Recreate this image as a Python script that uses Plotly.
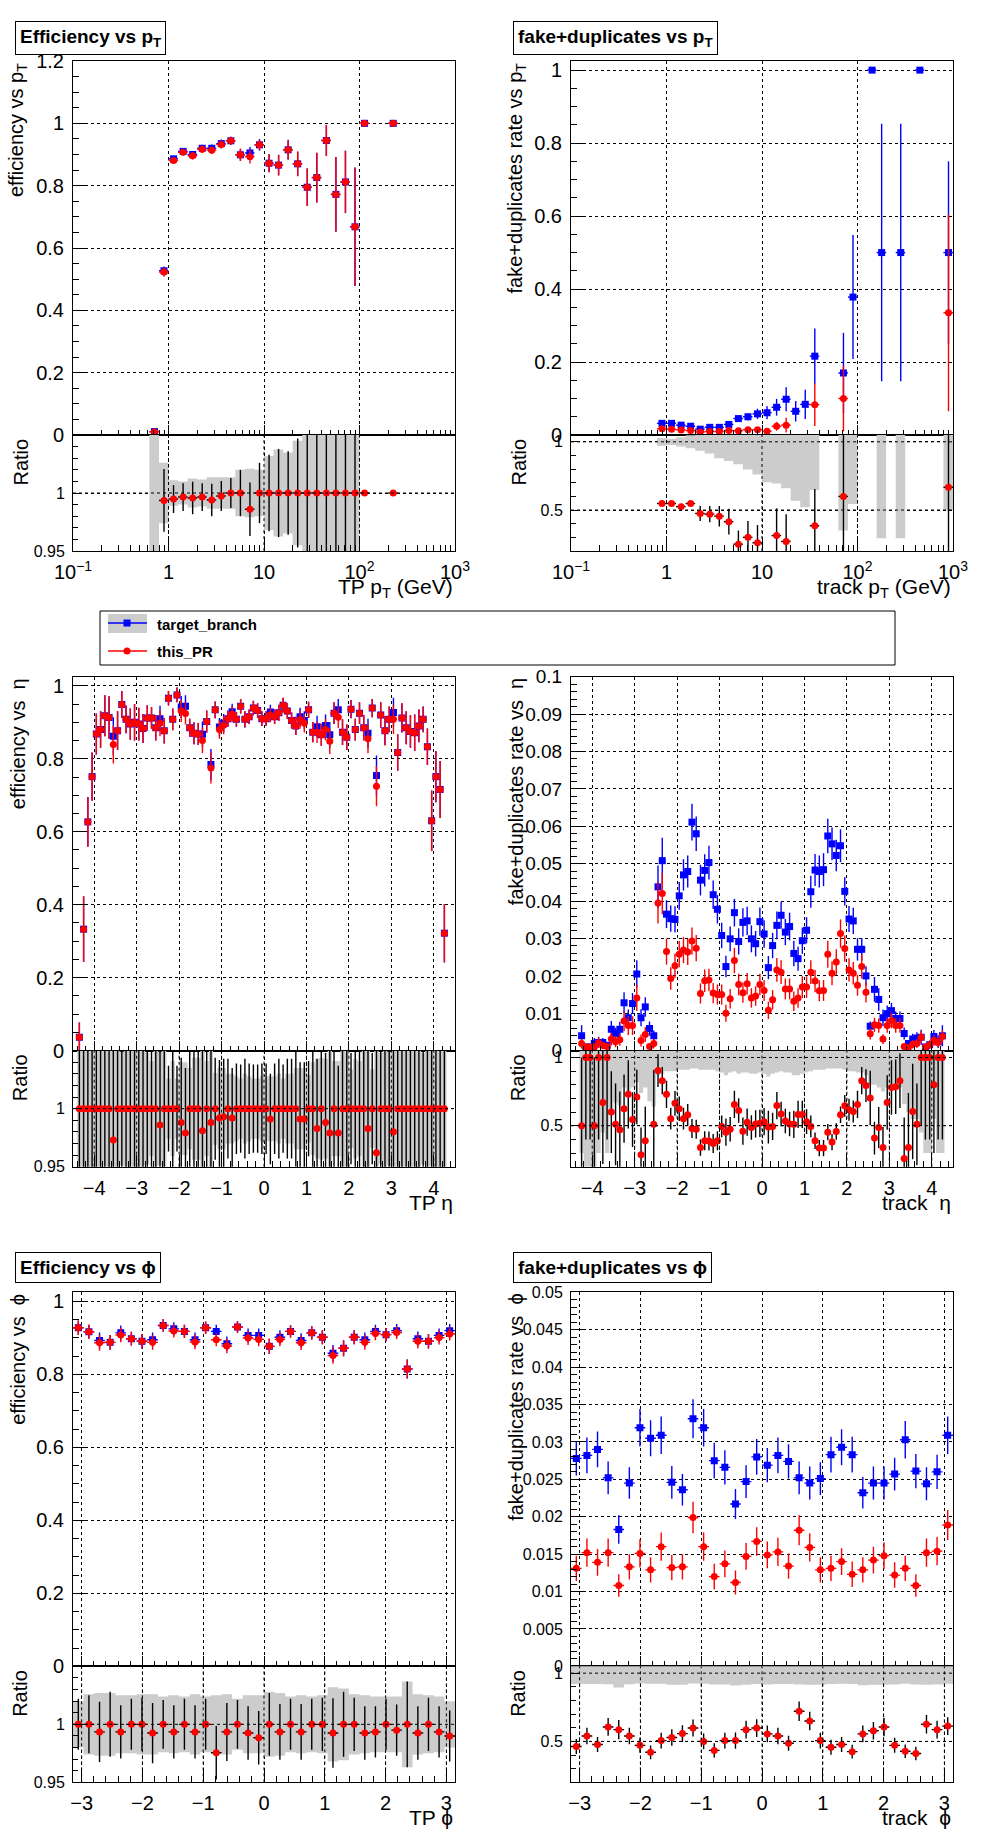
import math
import plotly.graph_objects as go

# ======================= DATA =======================
# ---- pT binning (40 log bins, 0.1 decade each, 0.1 .. 1000 GeV)
pt_edges = [10 ** (-1 + 0.1 * i) for i in range(41)]

eff_pt_target = [None] * 8 + [0.011, 0.527, 0.886, 0.910, 0.900, 0.920, 0.920, 0.935, 0.944, 0.899,
                              0.905, 0.931, 0.872, 0.866, 0.915, 0.870, 0.795, 0.826, 0.945, 0.772,
                              0.812, 0.668, 1.0, None, None, 1.0] + [None] * 6
eff_pt_pr = [None] * 8 + [0.010, 0.523, 0.881, 0.907, 0.896, 0.917, 0.914, 0.932, 0.944, 0.899,
                          0.893, 0.931, 0.872, 0.866, 0.915, 0.870, 0.795, 0.826, 0.945, 0.772,
                          0.812, 0.668, 1.0, None, None, 1.0] + [None] * 6
eff_pt_err_target = [None] * 8 + [0.004, 0.014, 0.010, 0.009, 0.011, 0.011, 0.012, 0.013, 0.013, 0.018,
                                  0.019, 0.019, 0.028, 0.033, 0.032, 0.039, 0.060, 0.080, 0.050, 0.120,
                                  0.100, 0.190, 0.0, None, None, 0.0] + [None] * 6
eff_pt_err_pr = [None] * 8 + [0.004, 0.015, 0.010, 0.010, 0.012, 0.012, 0.012, 0.013, 0.013, 0.020,
                              0.022, 0.016, 0.030, 0.033, 0.030, 0.040, 0.060, 0.080, 0.050, 0.120,
                              0.100, 0.190, 0.0, None, None, 0.0] + [None] * 6
eff_pt_ratio = [None] * 9 + [0.9936, 0.9948, 0.9965, 0.9957, 0.9965, 0.994, 0.9974, 1.0, 1.0, 0.986,
                             1.0, 1.0, 1.0, 1.0, 1.0, 1.0, 1.0, 1.0, 1.0, 1.0,
                             1.0, 1.0, None, None, 1.0] + [None] * 6
eff_pt_ratio_err = [None] * 9 + [0.027, 0.012, 0.012, 0.014, 0.012, 0.014, 0.013, 0.013, 0.020, 0.023,
                                 0.026, 0.033, 0.038, 0.036, 0.047, 0.080, 0.100, 0.060, 0.150, 0.120,
                                 0.280, 0.0, None, None, 0.0] + [None] * 6
eff_pt_band = [None] * 8 + [0.10, 0.026, 0.011, 0.010, 0.0124, 0.0116, 0.0136, 0.0136, 0.0136, 0.020,
                            0.021, 0.020, 0.032, 0.0376, 0.035, 0.045, 0.075, 0.10, 0.055, 0.15,
                            0.12, 0.28, 0.0, None, None, 0.0] + [None] * 6

fake_pt_target = [None] * 9 + [0.032, 0.032, 0.027, 0.024, 0.016, 0.021, 0.021, 0.029, 0.045, 0.050,
                               0.058, 0.061, 0.076, 0.098, 0.065, 0.084, 0.216, None, None, 0.170,
                               0.378, None, 1.0, 0.5, None, 0.5, None, 1.0, None, None, 0.5]
fake_pt_err_target = [None] * 9 + [0.0009, 0.0008, 0.0009, 0.0012, 0.001, 0.0018, 0.0025, 0.004, 0.0074, 0.010,
                                   0.014, 0.018, 0.023, 0.033, 0.028, 0.040, 0.076, None, None, 0.11,
                                   0.17, None, 0.0, 0.353, None, 0.353, None, 0.0, None, None, 0.25]
fake_pt_pr = [None] * 9 + [0.017, 0.016, 0.014, 0.012, 0.008, 0.0095, 0.0095, 0.012, 0.0115, 0.0145,
                           0.0145, 0.0105, 0.024, 0.027, None, None, 0.083, None, None, 0.100,
                           None, None, None, None, None, None, None, None, None, None, 0.335]
fake_pt_err_pr = [None] * 9 + [0.001, 0.001, 0.001, 0.001, 0.0008, 0.001, 0.0013, 0.0017, 0.0025, 0.004,
                               0.004, 0.004, 0.012, 0.020, None, None, 0.058, None, None, 0.09,
                               None, None, None, None, None, None, None, None, None, None, 0.27]
fake_pt_ratio = [None] * 9 + [0.548, 0.548, 0.525, 0.548, 0.475, 0.47, 0.455, 0.415, 0.25, 0.30,
                              0.26, None, 0.313, 0.27, None, None, 0.385, None, None, 0.60,
                              None, None, None, None, None, None, None, None, None, None, 0.667]
fake_pt_ratio_err = [None] * 9 + [0.012, 0.012, 0.012, 0.015, 0.055, 0.06, 0.075, 0.095, 0.10, 0.12,
                                  0.13, None, 0.20, 0.20, None, None, 0.27, None, None, 0.60,
                                  None, None, None, None, None, None, None, None, None, None, 0.60]
fake_pt_band = [None] * 9 + [0.028, 0.023, 0.034, 0.048, 0.065, 0.085, 0.12, 0.14, 0.164, 0.203,
                             0.24, 0.297, 0.305, 0.34, 0.432, 0.48, 0.353, None, None, 0.65,
                             0.455, None, 0.0, 0.706, None, 0.706, None, 0.0, None, None, 0.5]

# ---- eta binning (0.1 wide bins)
eff_eta_centers = [round(-4.35 + 0.1 * i, 2) for i in range(87)]
fake_eta_centers = [round(-4.25 + 0.1 * i, 2) for i in range(86)]
eta_half_width = 0.05

eff_eta_pr = [0.037, 0.333, 0.627, 0.751, 0.868, 0.880, 0.918, 0.913, 0.839, 0.877,
              0.949, 0.908, 0.895, 0.900, 0.895, 0.883, 0.912, 0.912, 0.885, 0.897,
              0.877, 0.966, 0.908, 0.975, 0.931, 0.924, 0.885, 0.870, 0.868, 0.850,
              0.902, 0.775, 0.934, 0.880, 0.892, 0.910, 0.922, 0.908, 0.944, 0.908,
              0.915, 0.939, 0.932, 0.910, 0.910, 0.920, 0.915, 0.926, 0.947, 0.931,
              0.905, 0.890, 0.907, 0.897, 0.934, 0.873, 0.873, 0.866, 0.880, 0.848,
              0.925, 0.914, 0.873, 0.859, 0.936, 0.880, 0.925, 0.885, 0.855, 0.939,
              0.725, 0.920, 0.877, 0.908, 0.908, 0.817, 0.912, 0.885, 0.875, 0.871,
              0.890, 0.908, 0.833, 0.630, 0.751, 0.716, 0.322]
eff_eta_target = [0.037, 0.333, 0.627, 0.751, 0.868, 0.880, 0.918, 0.913, 0.862, 0.877,
                  0.949, 0.908, 0.895, 0.900, 0.895, 0.883, 0.912, 0.912, 0.885, 0.910,
                  0.877, 0.966, 0.908, 0.975, 0.942, 0.944, 0.885, 0.870, 0.868, 0.867,
                  0.902, 0.784, 0.934, 0.887, 0.898, 0.910, 0.929, 0.908, 0.944, 0.908,
                  0.915, 0.939, 0.932, 0.910, 0.910, 0.928, 0.915, 0.926, 0.947, 0.931,
                  0.905, 0.890, 0.915, 0.905, 0.934, 0.873, 0.888, 0.866, 0.891, 0.866,
                  0.925, 0.934, 0.873, 0.859, 0.936, 0.880, 0.925, 0.885, 0.870, 0.939,
                  0.754, 0.920, 0.877, 0.908, 0.927, 0.817, 0.912, 0.885, 0.875, 0.871,
                  0.890, 0.908, 0.833, 0.630, 0.751, 0.716, 0.322]
eff_eta_err = [0.040, 0.090, 0.068, 0.066, 0.056, 0.050, 0.056, 0.058, 0.052, 0.053,
               0.037, 0.038, 0.043, 0.050, 0.045, 0.040, 0.035, 0.030, 0.035, 0.035,
               0.035, 0.020, 0.030, 0.020, 0.030, 0.030, 0.025, 0.030, 0.030, 0.035,
               0.030, 0.043, 0.023, 0.025, 0.025, 0.022, 0.022, 0.020, 0.020, 0.022,
               0.020, 0.020, 0.020, 0.020, 0.020, 0.020, 0.020, 0.022, 0.020, 0.022,
               0.022, 0.025, 0.025, 0.025, 0.022, 0.028, 0.030, 0.030, 0.030, 0.035,
               0.030, 0.030, 0.035, 0.035, 0.025, 0.030, 0.030, 0.035, 0.040, 0.025,
               0.055, 0.035, 0.040, 0.035, 0.040, 0.050, 0.040, 0.045, 0.045, 0.050,
               0.045, 0.035, 0.050, 0.083, 0.070, 0.078, 0.080]
eff_eta_ratio = [1.0, 1.0, 1.0, 1.0, 1.0, 1.0, 1.0, 1.0, 0.973, 1.0,
                 1.0, 1.0, 1.0, 1.0, 1.0, 1.0, 1.0, 1.0, 1.0, 0.986,
                 1.0, 1.0, 1.0, 1.0, 0.988, 0.979, 1.0, 1.0, 1.0, 0.981,
                 1.0, 0.988, 1.0, 0.992, 0.993, 1.0, 0.992, 1.0, 1.0, 1.0,
                 1.0, 1.0, 1.0, 1.0, 1.0, 0.991, 1.0, 1.0, 1.0, 1.0,
                 1.0, 1.0, 0.991, 0.991, 1.0, 1.0, 0.983, 1.0, 0.988, 0.979,
                 1.0, 0.979, 1.0, 1.0, 1.0, 1.0, 1.0, 1.0, 0.983, 1.0,
                 0.962, 1.0, 1.0, 1.0, 0.980, 1.0, 1.0, 1.0, 1.0, 1.0,
                 1.0, 1.0, 1.0, 1.0, 1.0, 1.0, 1.0]
eff_eta_ratio_err = [0.60, 0.45, 0.19, 0.155, 0.115, 0.10, 0.108, 0.112, 0.108, 0.106,
                     0.070, 0.074, 0.085, 0.097, 0.089, 0.080, 0.068, 0.058, 0.070, 0.069,
                     0.070, 0.037, 0.059, 0.037, 0.056, 0.056, 0.050, 0.061, 0.061, 0.072,
                     0.059, 0.097, 0.044, 0.050, 0.050, 0.043, 0.043, 0.039, 0.038, 0.043,
                     0.039, 0.038, 0.038, 0.039, 0.039, 0.039, 0.039, 0.043, 0.038, 0.043,
                     0.043, 0.050, 0.049, 0.049, 0.041, 0.056, 0.060, 0.061, 0.060, 0.072,
                     0.058, 0.058, 0.071, 0.071, 0.048, 0.060, 0.058, 0.070, 0.082, 0.048,
                     0.130, 0.068, 0.080, 0.069, 0.078, 0.107, 0.078, 0.090, 0.091, 0.100,
                     0.089, 0.068, 0.106, 0.230, 0.165, 0.190, 0.430]
eff_eta_band = [0.60, 0.34, 0.14, 0.11, 0.081, 0.071, 0.076, 0.080, 0.078, 0.075,
                0.049, 0.053, 0.060, 0.069, 0.063, 0.056, 0.048, 0.041, 0.050, 0.049,
                0.050, 0.026, 0.041, 0.026, 0.040, 0.040, 0.035, 0.044, 0.044, 0.051,
                0.041, 0.069, 0.031, 0.035, 0.035, 0.030, 0.030, 0.028, 0.026, 0.030,
                0.028, 0.026, 0.026, 0.028, 0.028, 0.028, 0.028, 0.030, 0.026, 0.030,
                0.030, 0.035, 0.035, 0.035, 0.029, 0.040, 0.043, 0.044, 0.043, 0.051,
                0.041, 0.041, 0.050, 0.050, 0.034, 0.043, 0.041, 0.050, 0.059, 0.034,
                0.095, 0.048, 0.056, 0.049, 0.055, 0.076, 0.055, 0.064, 0.065, 0.071,
                0.063, 0.048, 0.075, 0.160, 0.116, 0.140, 0.310]

fake_eta_target = [0.0040, 0.0010, 0.0010, 0.0019, 0.0022, 0.0022, 0.0014, 0.0057, 0.0046, 0.0057,
                   0.0128, 0.0088, 0.0126, 0.0205, 0.0088, 0.0117, 0.0059, 0.0040, 0.0438, 0.0508,
                   0.0365, 0.0353, 0.0351, 0.0414, 0.0470, 0.0479, 0.0611, 0.0580, 0.0456, 0.0482,
                   0.0503, 0.0417, 0.0378, 0.0308, 0.0225, 0.0299, 0.0369, 0.0292, 0.0343, 0.0347,
                   0.0299, 0.0286, 0.0345, 0.0312, 0.0222, 0.0281, 0.0335, 0.0362, 0.0317, 0.0332,
                   0.0260, 0.0246, 0.0294, 0.0322, 0.0425, 0.0483, 0.0479, 0.0484, 0.0574, 0.0553,
                   0.0522, 0.0548, 0.0426, 0.0352, 0.0347, 0.0271, 0.0271, 0.0200, 0.0065, 0.0164,
                   0.0137, 0.0088, 0.0099, 0.0107, 0.0086, 0.0086, 0.0046, 0.0019, 0.0031, 0.0034,
                   0.0036, 0.0010, 0.0016, 0.0038, 0.0024, 0.0040]
fake_eta_err_target = [0.0028, 0.0008, 0.0008, 0.0015, 0.0015, 0.0012, 0.0010, 0.0022, 0.0015, 0.0020,
                       0.0028, 0.0022, 0.0028, 0.0037, 0.0023, 0.0026, 0.0019, 0.0014, 0.0057, 0.0061,
                       0.0037, 0.0035, 0.0035, 0.0037, 0.0042, 0.0043, 0.0049, 0.0046, 0.0041, 0.0043,
                       0.0045, 0.0038, 0.0038, 0.0034, 0.0029, 0.0033, 0.0037, 0.0035, 0.0038, 0.0038,
                       0.0036, 0.0034, 0.0038, 0.0037, 0.0031, 0.0034, 0.0037, 0.0036, 0.0035, 0.0037,
                       0.0034, 0.0032, 0.0035, 0.0035, 0.0043, 0.0043, 0.0043, 0.0044, 0.0046, 0.0044,
                       0.0042, 0.0044, 0.0038, 0.0035, 0.0035, 0.0030, 0.0030, 0.0026, 0.0013, 0.0033,
                       0.0030, 0.0022, 0.0022, 0.0021, 0.0019, 0.0019, 0.0016, 0.0008, 0.0014, 0.0015,
                       0.0020, 0.0007, 0.0011, 0.0017, 0.0017, 0.0028]
fake_eta_pr = [0.0019, 0.0010, 0.0010, 0.0010, 0.0021, 0.0014, 0.0011, 0.0031, 0.0024, 0.0029,
               0.0079, 0.0067, 0.0067, 0.0141, 0.0027, 0.0043, 0.0011, 0.0019, 0.0395, 0.0420,
               0.0265, 0.0193, 0.0227, 0.0258, 0.0269, 0.0264, 0.0293, 0.0274, 0.0153, 0.0187,
               0.0189, 0.0154, 0.0150, 0.0150, 0.0100, 0.0139, 0.0241, 0.0177, 0.0155, 0.0179,
               0.0141, 0.0146, 0.0177, 0.0161, 0.0108, 0.0136, 0.0216, 0.0210, 0.0165, 0.0165,
               0.0132, 0.0141, 0.0170, 0.0170, 0.0210, 0.0186, 0.0160, 0.0161, 0.0258, 0.0207,
               0.0237, 0.0313, 0.0273, 0.0216, 0.0207, 0.0175, 0.0225, 0.0156, 0.0045, 0.0069,
               0.0067, 0.0031, 0.0067, 0.0081, 0.0067, 0.0067, 0.0011, 0.0008, 0.0017, 0.0019,
               0.0036, 0.0010, 0.0016, 0.0027, 0.0022, 0.0038]
fake_eta_err_pr = [0.0013, 0.0008, 0.0008, 0.0008, 0.0014, 0.0010, 0.0008, 0.0017, 0.0015, 0.0016,
                   0.0027, 0.0025, 0.0025, 0.0035, 0.0016, 0.0020, 0.0008, 0.0013, 0.0055, 0.0055,
                   0.0035, 0.0030, 0.0033, 0.0035, 0.0035, 0.0035, 0.0036, 0.0035, 0.0027, 0.0030,
                   0.0030, 0.0027, 0.0027, 0.0027, 0.0023, 0.0026, 0.0034, 0.0029, 0.0027, 0.0029,
                   0.0026, 0.0026, 0.0029, 0.0028, 0.0023, 0.0026, 0.0032, 0.0032, 0.0028, 0.0028,
                   0.0026, 0.0026, 0.0029, 0.0029, 0.0032, 0.0030, 0.0028, 0.0028, 0.0036, 0.0032,
                   0.0034, 0.0038, 0.0035, 0.0031, 0.0030, 0.0028, 0.0032, 0.0027, 0.0015, 0.0019,
                   0.0019, 0.0013, 0.0019, 0.0021, 0.0019, 0.0019, 0.0008, 0.0007, 0.0011, 0.0012,
                   0.0017, 0.0008, 0.0011, 0.0014, 0.0013, 0.0017]
fake_eta_ratio = [0.50, 1.00, 1.00, 0.50, 1.00, 0.67, 1.00, 0.60, 0.51, 0.47,
                  0.625, 0.73, 0.545, 0.71, 0.287, 0.39, None, 0.51, 0.904, 0.83,
                  0.73, 0.552, 0.664, 0.625, 0.552, 0.58, 0.48, 0.474, 0.34, 0.39,
                  0.388, 0.37, 0.39, 0.495, 0.453, 0.474, 0.656, 0.612, 0.46, 0.526,
                  0.487, 0.513, 0.518, 0.53, 0.49, 0.495, 0.648, 0.586, 0.534, 0.513,
                  0.51, 0.583, 0.583, 0.53, 0.495, 0.39, 0.336, 0.336, 0.453, 0.38,
                  0.458, 0.58, 0.646, 0.617, 0.604, 0.656, 0.83, 0.794, 0.703, 0.41,
                  0.487, 0.34, 0.67, 0.78, 0.786, 0.83, 0.26, 0.34, 0.604, 0.51,
                  1.00, 1.00, 1.00, 0.80, 1.00, 1.00]
fake_eta_ratio_err = [0.50, 0.60, 0.60, 0.50, 0.60, 0.45, 0.60, 0.30, 0.30, 0.28,
                      0.25, 0.25, 0.20, 0.20, 0.20, 0.25, None, 0.40, 0.12, 0.10,
                      0.10, 0.08, 0.09, 0.09, 0.08, 0.08, 0.07, 0.07, 0.06, 0.07,
                      0.07, 0.07, 0.07, 0.08, 0.10, 0.09, 0.10, 0.09, 0.10, 0.10,
                      0.09, 0.10, 0.10, 0.10, 0.12, 0.10, 0.10, 0.09, 0.09, 0.09,
                      0.10, 0.10, 0.10, 0.09, 0.08, 0.06, 0.06, 0.06, 0.06, 0.06,
                      0.06, 0.06, 0.08, 0.08, 0.08, 0.10, 0.10, 0.12, 0.20, 0.12,
                      0.15, 0.15, 0.20, 0.20, 0.20, 0.20, 0.30, 0.40, 0.35, 0.30,
                      0.50, 0.60, 0.60, 0.50, 0.60, 0.60]
fake_eta_band = [0.70, 0.80, 0.80, 0.80, 0.70, 0.55, 0.70, 0.38, 0.33, 0.35,
                 0.22, 0.25, 0.22, 0.18, 0.26, 0.22, 0.32, 0.36, 0.13, 0.12,
                 0.10, 0.10, 0.10, 0.09, 0.09, 0.09, 0.08, 0.08, 0.09, 0.09,
                 0.09, 0.09, 0.10, 0.11, 0.13, 0.11, 0.10, 0.12, 0.11, 0.11,
                 0.12, 0.12, 0.11, 0.12, 0.14, 0.12, 0.11, 0.10, 0.11, 0.11,
                 0.13, 0.13, 0.12, 0.11, 0.10, 0.09, 0.09, 0.09, 0.08, 0.08,
                 0.08, 0.08, 0.09, 0.10, 0.10, 0.11, 0.11, 0.13, 0.20, 0.20,
                 0.22, 0.25, 0.22, 0.20, 0.22, 0.22, 0.34, 0.40, 0.45, 0.45,
                 0.55, 0.70, 0.70, 0.45, 0.70, 0.70]

# ---- phi binning (36 bins over [-pi, pi])
phi_edges = [-math.pi + i * 2 * math.pi / 36 for i in range(37)]

eff_phi_target = [0.928, 0.917, 0.893, 0.888, 0.914, 0.898, 0.891, 0.895, 0.934, 0.925,
                  0.918, 0.895, 0.928, 0.918, 0.884, 0.930, 0.907, 0.907, 0.877, 0.902,
                  0.918, 0.893, 0.914, 0.902, 0.858, 0.872, 0.902, 0.895, 0.918, 0.909,
                  0.920, 0.815, 0.898, 0.891, 0.907, 0.920]
eff_phi_pr = [0.928, 0.917, 0.887, 0.888, 0.908, 0.898, 0.891, 0.888, 0.934, 0.919,
              0.918, 0.889, 0.928, 0.895, 0.878, 0.930, 0.900, 0.896, 0.877, 0.896,
              0.918, 0.887, 0.914, 0.902, 0.852, 0.872, 0.902, 0.888, 0.912, 0.909,
              0.915, 0.815, 0.891, 0.891, 0.901, 0.911]
eff_phi_err = [0.020, 0.019, 0.022, 0.020, 0.020, 0.019, 0.020, 0.020, 0.017, 0.018,
               0.018, 0.020, 0.017, 0.018, 0.020, 0.016, 0.019, 0.019, 0.021, 0.019,
               0.017, 0.020, 0.018, 0.019, 0.023, 0.022, 0.019, 0.020, 0.018, 0.018,
               0.018, 0.026, 0.020, 0.020, 0.019, 0.018]
eff_phi_ratio = [1.0, 1.0, 0.9935, 1.0, 0.9935, 1.0, 1.0, 0.9925, 1.0, 0.9935,
                 1.0, 0.9935, 1.0, 0.9755, 0.9935, 1.0, 0.9925, 0.9884, 1.0, 0.9935,
                 1.0, 0.9935, 1.0, 1.0, 0.9925, 1.0, 1.0, 0.9925, 0.9935, 1.0,
                 0.995, 1.0, 0.9925, 1.0, 0.9935, 0.990]
eff_phi_ratio_err = [0.022, 0.025, 0.026, 0.028, 0.023, 0.022, 0.023, 0.026, 0.021, 0.023,
                     0.022, 0.023, 0.022, 0.023, 0.025, 0.021, 0.023, 0.023, 0.027, 0.024,
                     0.022, 0.024, 0.022, 0.023, 0.030, 0.028, 0.023, 0.023, 0.022, 0.022,
                     0.022, 0.037, 0.023, 0.023, 0.022, 0.022]
eff_phi_band = [0.020, 0.026, 0.027, 0.027, 0.025, 0.025, 0.026, 0.026, 0.024, 0.025,
                0.024, 0.026, 0.024, 0.025, 0.026, 0.022, 0.025, 0.025, 0.028, 0.027,
                0.024, 0.025, 0.024, 0.025, 0.032, 0.031, 0.026, 0.025, 0.024, 0.024,
                0.024, 0.037, 0.026, 0.025, 0.024, 0.020]

fake_phi_target = [0.0278, 0.0282, 0.0290, 0.0252, 0.0183, 0.0245, 0.0319, 0.0305, 0.0309, 0.0246,
                   0.0236, 0.0331, 0.0319, 0.0275, 0.0266, 0.0217, 0.0247, 0.0280, 0.0269, 0.0282,
                   0.0274, 0.0252, 0.0245, 0.0251, 0.0283, 0.0293, 0.0283, 0.0232, 0.0245, 0.0245,
                   0.0257, 0.0303, 0.0261, 0.0244, 0.0260, 0.0309]
fake_phi_err_target = [0.0023, 0.0024, 0.0024, 0.0022, 0.0019, 0.0021, 0.0025, 0.0024, 0.0025, 0.0022,
                       0.0021, 0.0026, 0.0025, 0.0024, 0.0023, 0.0020, 0.0022, 0.0024, 0.0023, 0.0024,
                       0.0023, 0.0022, 0.0022, 0.0022, 0.0024, 0.0024, 0.0024, 0.0021, 0.0022, 0.0022,
                       0.0022, 0.0025, 0.0023, 0.0022, 0.0023, 0.0025]
fake_phi_pr = [0.0131, 0.0152, 0.0139, 0.0152, 0.0108, 0.0133, 0.0151, 0.0129, 0.0160, 0.0132,
               0.0133, 0.0199, 0.0160, 0.0120, 0.0137, 0.0112, 0.0147, 0.0167, 0.0149, 0.0153,
               0.0134, 0.0182, 0.0159, 0.0129, 0.0131, 0.0140, 0.0123, 0.0129, 0.0142, 0.0148,
               0.0122, 0.0131, 0.0108, 0.0152, 0.0154, 0.0189]
fake_phi_err_pr = [0.0017, 0.0019, 0.0018, 0.0019, 0.0015, 0.0017, 0.0019, 0.0017, 0.0019, 0.0017,
                   0.0017, 0.0021, 0.0019, 0.0017, 0.0018, 0.0016, 0.0018, 0.0019, 0.0018, 0.0019,
                   0.0017, 0.0020, 0.0019, 0.0017, 0.0017, 0.0018, 0.0017, 0.0017, 0.0018, 0.0018,
                   0.0017, 0.0017, 0.0015, 0.0019, 0.0019, 0.0020]
fake_phi_ratio = [0.463, 0.54, 0.477, 0.606, 0.586, 0.54, 0.471, 0.42, 0.506, 0.529,
                  0.557, 0.598, 0.50, 0.434, 0.506, 0.506, 0.586, 0.598, 0.555, 0.54,
                  0.486, 0.721, 0.649, 0.506, 0.457, 0.477, 0.425, 0.555, 0.578, 0.606,
                  0.471, 0.428, 0.411, 0.626, 0.586, 0.612]
fake_phi_ratio_err = [0.055, 0.060, 0.055, 0.065, 0.070, 0.060, 0.055, 0.050, 0.058, 0.060,
                      0.062, 0.062, 0.058, 0.052, 0.058, 0.060, 0.065, 0.065, 0.062, 0.060,
                      0.055, 0.072, 0.068, 0.058, 0.055, 0.055, 0.050, 0.062, 0.065, 0.068,
                      0.055, 0.050, 0.050, 0.068, 0.065, 0.065]
fake_phi_band = [0.080, 0.080, 0.080, 0.082, 0.105, 0.082, 0.075, 0.077, 0.077, 0.085,
                 0.085, 0.075, 0.077, 0.083, 0.083, 0.090, 0.085, 0.080, 0.083, 0.080,
                 0.080, 0.083, 0.085, 0.085, 0.080, 0.078, 0.080, 0.088, 0.085, 0.085,
                 0.083, 0.078, 0.083, 0.085, 0.083, 0.078]

# ---- tick labels
pt_tickvals = [0.1, 1, 10, 100, 1000]
pt_ticktext = ["10<sup>\u22121</sup>", "1", "10", "10<sup>2</sup>", "10<sup>3</sup>"]
eta_tickvals = [-4, -3, -2, -1, 0, 1, 2, 3, 4]
phi_tickvals = [-3, -2, -1, 0, 1, 2, 3]
eff_pt_yticks = [0, 0.2, 0.4, 0.6, 0.8, 1.0, 1.2]
eff_pt_ylabels = ["0", "0.2", "0.4", "0.6", "0.8", "1", "1.2"]
unit_yticks = [0, 0.2, 0.4, 0.6, 0.8, 1.0]
unit_ylabels = ["0", "0.2", "0.4", "0.6", "0.8", "1"]
fake_eta_yticks = [0, 0.01, 0.02, 0.03, 0.04, 0.05, 0.06, 0.07, 0.08, 0.09, 0.1]
fake_eta_ylabels = ["0", "0.01", "0.02", "0.03", "0.04", "0.05", "0.06", "0.07", "0.08", "0.09", "0.1"]
fake_phi_yticks = [0, 0.005, 0.01, 0.015, 0.02, 0.025, 0.03, 0.035, 0.04, 0.045, 0.05]
fake_phi_ylabels = ["0", "0.005", "0.01", "0.015", "0.02", "0.025", "0.03", "0.035", "0.04", "0.045", "0.05"]
eff_ratio_yticks = [0.95, 1.0]
eff_ratio_ylabels = ["0.95", "1"]
fake_ratio_yticks = [0.5, 1.0]
fake_ratio_ylabels = ["0.5", "1"]

# ======================= GEOMETRY / STYLE =======================
W, H = 996, 1847
ROW = 615.67
FRAME_X = [(73, 455), (571, 953)]
MAIN_TOP, DIV, BOT = 61, 435, 551
FONT = "Liberation Sans, Arial, Helvetica, sans-serif"
BLUE, RED, GRAY = "#0000ff", "#ff0000", "#cccccc"

fig = go.Figure()
layout = dict(width=W, height=H, margin=dict(l=0, r=0, t=0, b=0, pad=0, autoexpand=False),
              paper_bgcolor="white", plot_bgcolor="white", showlegend=False,
              hovermode=False, font=dict(family=FONT, color="black"))
annotations, shapes = [], []


def fx(p):
    return p / W


def fy(p):
    return 1 - p / H


def bins_from_centers(centers, hw):
    return [c - hw for c in centers], [c + hw for c in centers]


def add_points(xa, ya, lo, hi, vals, errs, color, symbol, ecolor):
    xs, ys, ey, exp, exm = [], [], [], [], []
    for l, h, v, e in zip(lo, hi, vals, errs):
        if v is None:
            continue
        c = (l + h) / 2
        xs.append(c)
        ys.append(v)
        ey.append(e if e else 0)
        exp.append(h - c)
        exm.append(c - l)
    fig.add_trace(go.Scatter(
        x=xs, y=ys, mode="markers", xaxis=xa, yaxis=ya,
        marker=dict(color=color, symbol=symbol, size=7, line=dict(width=0)),
        error_y=dict(type="data", array=ey, color=ecolor, thickness=1.4, width=0, visible=True),
        error_x=dict(type="data", array=exp, arrayminus=exm, color=ecolor, thickness=1.4, width=0, visible=True),
        hoverinfo="skip"))


def add_band(xa, ya, lo, hi, errs):
    xs, ys = [], []
    for l, h, e in zip(lo, hi, errs):
        if not e:
            continue
        xs += [l, h, h, l, l, None]
        ys += [1 - e, 1 - e, 1 + e, 1 + e, 1 - e, None]
    fig.add_trace(go.Scatter(x=xs, y=ys, mode="lines", fill="toself", fillcolor=GRAY,
                             line=dict(width=0, color=GRAY), xaxis=xa, yaxis=ya, hoverinfo="skip"))


def axis_base(**kw):
    d = dict(showline=True, linecolor="black", linewidth=1, mirror=True,
             ticks="inside", tickcolor="black", tickwidth=1, automargin=False,
             showgrid=True, gridcolor="black", griddash="dot", gridwidth=1,
             zeroline=False, layer="above traces",
             tickfont=dict(family=FONT, size=20, color="black"))
    d.update(kw)
    return d


def panel(n, col, row, xcfg, main_cfg, ratio_cfg, lo, hi, blue, blue_err, red, red_err,
          ratio, ratio_err, band, ytitle, xtitle, title=None):
    off = row * ROW
    x0, x1 = FRAME_X[col]
    im, ir = 2 * n + 1, 2 * n + 2
    xm, ym = "x%d" % im, "y%d" % im
    xr, yr = "x%d" % ir, "y%d" % ir
    is_log = xcfg["type"] == "log"
    xcommon = dict(type=xcfg["type"], range=xcfg["range"], tickmode="array",
                   tickvals=xcfg["tickvals"], ticktext=xcfg["ticktext"])
    if is_log:
        minor = dict(ticks="inside", dtick="D1", showgrid=False, tickcolor="black")
    else:
        minor = dict(ticks="inside", dtick=xcfg["minor"], tick0=0, showgrid=False, tickcolor="black")
    layout["xaxis%d" % im] = axis_base(domain=[fx(x0), fx(x1)], anchor=ym, showticklabels=False,
                                       ticklen=10, minor=dict(minor, ticklen=5), **xcommon)
    layout["xaxis%d" % ir] = axis_base(domain=[fx(x0), fx(x1)], anchor=yr, showticklabels=True,
                                       ticklen=12, minor=dict(minor, ticklen=6),
                                       ticklabelstandoff=3, **xcommon)
    layout["yaxis%d" % im] = axis_base(domain=[fy(DIV + off), fy(MAIN_TOP + off)], anchor=xm,
                                       range=main_cfg["range"], tickmode="array",
                                       tickvals=main_cfg["tickvals"], ticktext=main_cfg["ticktext"],
                                       ticklen=12, ticklabelstandoff=4,
                                       tickfont=dict(family=FONT, size=main_cfg["font"], color="black"),
                                       minor=dict(ticks="inside", dtick=main_cfg["minor"], tick0=0,
                                                  ticklen=6, showgrid=False, tickcolor="black"))
    layout["yaxis%d" % ir] = axis_base(domain=[fy(BOT + off), fy(DIV + off)], anchor=xr,
                                       range=ratio_cfg["range"], tickmode="array",
                                       tickvals=ratio_cfg["tickvals"], ticktext=ratio_cfg["ticktext"],
                                       ticklen=9, ticklabelstandoff=4,
                                       tickfont=dict(family=FONT, size=16, color="black"),
                                       minor=dict(ticks="inside", dtick=ratio_cfg["minor"], tick0=0,
                                                  ticklen=5, showgrid=False, tickcolor="black"))
    # main panel points
    add_points(xm, ym, lo, hi, blue, blue_err, BLUE, "square", BLUE)
    add_points(xm, ym, lo, hi, red, red_err, RED, "circle", RED)
    # ratio panel
    add_band(xr, yr, lo, hi, band)
    add_points(xr, yr, lo, hi, ratio, ratio_err, RED, "circle", "black")
    # dotted grid on top of the band in the ratio panel
    for v in ratio_cfg["tickvals"]:
        if ratio_cfg["range"][0] < v < ratio_cfg["range"][1]:
            shapes.append(dict(type="line", xref="%s domain" % xr, yref=yr, x0=0, x1=1, y0=v, y1=v,
                               line=dict(color="black", width=1, dash="dot"), layer="above"))
    for v in xcfg["tickvals"]:
        lo_r, hi_r = xcfg["range"]
        vv = math.log10(v) if is_log else v
        if lo_r < vv < hi_r:
            shapes.append(dict(type="line", xref=xr, yref="%s domain" % yr, x0=v, x1=v, y0=0, y1=1,
                               line=dict(color="black", width=1, dash="dot"), layer="above"))
    # texts
    annotations.append(dict(text=ytitle, x=fx(x0 - 55), y=fy(MAIN_TOP + off), xref="paper", yref="paper",
                            xanchor="center", yanchor="top", textangle=-90, showarrow=False,
                            font=dict(family=FONT, size=20, color="black")))
    annotations.append(dict(text="Ratio", x=fx(x0 - 53), y=fy(DIV + off + 2), xref="paper", yref="paper",
                            xanchor="center", yanchor="top", textangle=-90, showarrow=False,
                            font=dict(family=FONT, size=20, color="black")))
    annotations.append(dict(text=xtitle, x=fx(x1), y=fy(BOT + off + 22), xref="paper", yref="paper",
                            xanchor="right", yanchor="top", showarrow=False,
                            font=dict(family=FONT, size=21, color="black")))
    if title:
        annotations.append(dict(text="<b>%s</b>" % title, x=fx(x0 - 58), y=fy(21 + off), xref="paper",
                                yref="paper", xanchor="left", yanchor="top", showarrow=False,
                                bordercolor="black", borderwidth=1, borderpad=4, bgcolor="white",
                                font=dict(family=FONT, size=19, color="black")))


pt_lo, pt_hi = pt_edges[:-1], pt_edges[1:]
eff_eta_lo, eff_eta_hi = bins_from_centers(eff_eta_centers, eta_half_width)
fake_eta_lo, fake_eta_hi = bins_from_centers(fake_eta_centers, eta_half_width)
phi_lo, phi_hi = phi_edges[:-1], phi_edges[1:]

pt_x = dict(type="log", range=[-1, 3], tickvals=pt_tickvals, ticktext=pt_ticktext)
eta_x = dict(type="linear", range=[-4.5, 4.5], tickvals=eta_tickvals,
             ticktext=[("\u2212%d" % -v) if v < 0 else str(v) for v in eta_tickvals], minor=0.2)
phi_x = dict(type="linear", range=[-math.pi, math.pi], tickvals=phi_tickvals,
             ticktext=[("\u2212%d" % -v) if v < 0 else str(v) for v in phi_tickvals], minor=0.2)

eff_ratio_cfg = dict(range=[0.95, 1.05], tickvals=eff_ratio_yticks, ticktext=eff_ratio_ylabels, minor=0.01)
fake_ratio_cfg = dict(range=[0.2, 1.05], tickvals=fake_ratio_yticks, ticktext=fake_ratio_ylabels, minor=0.1)

panel(0, 0, 0, pt_x, dict(range=[0, 1.2], tickvals=eff_pt_yticks, ticktext=eff_pt_ylabels, minor=0.05, font=20),
      eff_ratio_cfg, pt_lo, pt_hi, eff_pt_target, eff_pt_err_target, eff_pt_pr, eff_pt_err_pr,
      eff_pt_ratio, eff_pt_ratio_err, eff_pt_band,
      "efficiency vs p<sub>T</sub>", "TP p<sub>T</sub> (GeV)", "Efficiency vs p<sub>T</sub>")
panel(1, 1, 0, pt_x, dict(range=[0, 1.025], tickvals=unit_yticks, ticktext=unit_ylabels, minor=0.05, font=20),
      fake_ratio_cfg, pt_lo, pt_hi, fake_pt_target, fake_pt_err_target, fake_pt_pr, fake_pt_err_pr,
      fake_pt_ratio, fake_pt_ratio_err, fake_pt_band,
      "fake+duplicates rate vs p<sub>T</sub>", "track p<sub>T</sub> (GeV)",
      "fake+duplicates vs p<sub>T</sub>")
panel(2, 0, 1, eta_x, dict(range=[0, 1.025], tickvals=unit_yticks, ticktext=unit_ylabels, minor=0.05, font=20),
      eff_ratio_cfg, eff_eta_lo, eff_eta_hi, eff_eta_target, eff_eta_err, eff_eta_pr, eff_eta_err,
      eff_eta_ratio, eff_eta_ratio_err, eff_eta_band, "efficiency vs  \u03b7", "TP \u03b7")
panel(3, 1, 1, eta_x, dict(range=[0, 0.1], tickvals=fake_eta_yticks, ticktext=fake_eta_ylabels, minor=0.002,
                           font=19),
      fake_ratio_cfg, fake_eta_lo, fake_eta_hi, fake_eta_target, fake_eta_err_target, fake_eta_pr,
      fake_eta_err_pr, fake_eta_ratio, fake_eta_ratio_err, fake_eta_band,
      "fake+duplicates rate vs  \u03b7", "track  \u03b7")
panel(4, 0, 2, phi_x, dict(range=[0, 1.025], tickvals=unit_yticks, ticktext=unit_ylabels, minor=0.05, font=20),
      eff_ratio_cfg, phi_lo, phi_hi, eff_phi_target, eff_phi_err, eff_phi_pr, eff_phi_err,
      eff_phi_ratio, eff_phi_ratio_err, eff_phi_band, "efficiency vs  \u03d5", "TP \u03d5",
      "Efficiency vs \u03d5")
panel(5, 1, 2, phi_x, dict(range=[0, 0.05], tickvals=fake_phi_yticks, ticktext=fake_phi_ylabels, minor=0.001,
                           font=16),
      fake_ratio_cfg, phi_lo, phi_hi, fake_phi_target, fake_phi_err_target, fake_phi_pr, fake_phi_err_pr,
      fake_phi_ratio, fake_phi_ratio_err, fake_phi_band,
      "fake+duplicates rate vs  \u03d5", "track  \u03d5", "fake+duplicates vs \u03d5")

# ---- legend (ROOT style box)
shapes.append(dict(type="rect", xref="paper", yref="paper", x0=fx(100), x1=fx(895),
                   y0=fy(665), y1=fy(611), line=dict(color="black", width=1),
                   fillcolor="white", layer="above"))
shapes.append(dict(type="rect", xref="paper", yref="paper", x0=fx(108), x1=fx(147), y0=fy(633), y1=fy(614),
                   line=dict(width=0), fillcolor=GRAY, layer="above"))
shapes.append(dict(type="line", xref="paper", yref="paper", x0=fx(108), x1=fx(147), y0=fy(623), y1=fy(623),
                   line=dict(color=BLUE, width=1.4), layer="above"))
shapes.append(dict(type="rect", xref="paper", yref="paper", x0=fx(123.5), x1=fx(130.5), y0=fy(626.5),
                   y1=fy(619.5), line=dict(width=0), fillcolor=BLUE, layer="above"))
shapes.append(dict(type="line", xref="paper", yref="paper", x0=fx(108), x1=fx(147), y0=fy(651), y1=fy(651),
                   line=dict(color=RED, width=1.4), layer="above"))
shapes.append(dict(type="circle", xref="paper", yref="paper", x0=fx(123.5), x1=fx(130.5), y0=fy(654.5),
                   y1=fy(647.5), line=dict(width=0), fillcolor=RED, layer="above"))
for label, yy in [("target_branch", 624), ("this_PR", 651)]:
    annotations.append(dict(text="<b>%s</b>" % label, x=fx(155), y=fy(yy), xref="paper", yref="paper",
                            xanchor="left", yanchor="middle", showarrow=False,
                            font=dict(family=FONT, size=15, color="black")))

layout["annotations"] = annotations
layout["shapes"] = shapes
fig.update_layout(**layout)
fig.write_html("out.html", config={"displayModeBar": False, "staticPlot": True},
               post_script="document.body.style.margin='0';document.body.style.overflow='hidden';")
